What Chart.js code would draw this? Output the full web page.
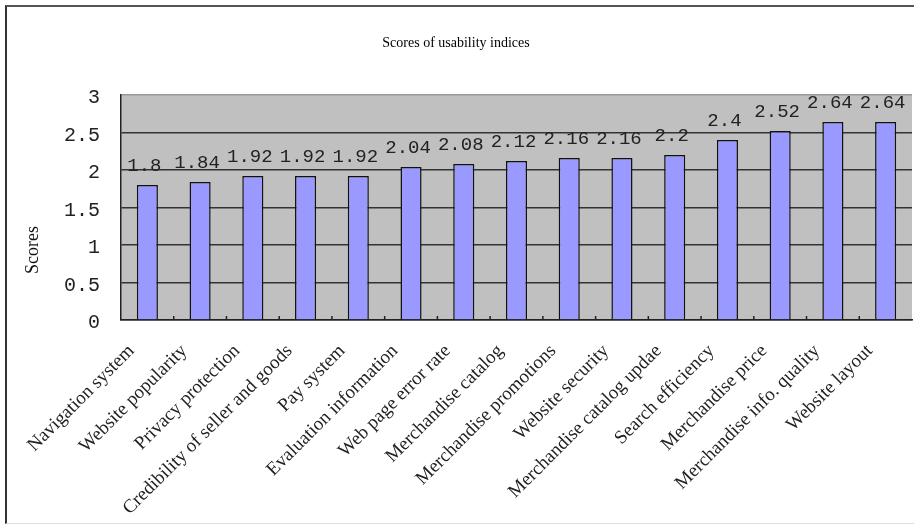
<!DOCTYPE html>
<html><head><meta charset="utf-8">
<script src="https://cdn.jsdelivr.net/npm/chart.js@4"></script>
<style>
html,body{margin:0;padding:0;background:#fff;}
#wrap{position:relative;width:914px;height:525px;overflow:hidden;}
#frame{position:absolute;left:5px;top:5px;width:930px;height:519px;border-left:2px solid #333;border-top:2px solid #555;border-bottom:1px solid #ddd;box-sizing:border-box;pointer-events:none}
canvas{position:absolute;left:0;top:0}
</style></head><body>
<div id="wrap"><canvas id="c" width="914" height="525"></canvas><div id="frame"></div></div>
<script>
const titleText = 'Scores of usability indices';
const yAxisTitle = 'Scores';
const categories = [
  'Navigation system', 'Website popularity', 'Privacy protection',
  'Credibility of seller and goods', 'Pay system', 'Evaluation information',
  'Web page error rate', 'Merchandise catalog', 'Merchandise promotions',
  'Website security', 'Merchandise catalog updae', 'Search efficiency',
  'Merchandise price', 'Merchandise info. quality', 'Website layout'
];
const scores = [1.8, 1.84, 1.92, 1.92, 1.92, 2.04, 2.08, 2.12, 2.16, 2.16, 2.2, 2.4, 2.52, 2.64, 2.64];
const yTicks = [0, 0.5, 1, 1.5, 2, 2.5, 3];

const plotBg = {
  id: 'plotBg',
  beforeDraw(chart) {
    const {ctx, chartArea: a} = chart;
    ctx.save();
    ctx.fillStyle = '#c0c0c0';
    ctx.fillRect(a.left, a.top, a.right - a.left, a.bottom - a.top);
    ctx.restore();
  }
};
const innerTicks = {
  id: 'innerTicks',
  afterDatasetsDraw(chart) {
    const {ctx, chartArea: a, scales: {x}} = chart;
    ctx.save();
    ctx.strokeStyle = '#222';
    ctx.lineWidth = 1.5;
    for (let i = 1; i < categories.length; i++) {
      const px = (x.getPixelForValue(i - 1) + x.getPixelForValue(i)) / 2;
      ctx.beginPath();
      ctx.moveTo(px, a.bottom);
      ctx.lineTo(px, a.bottom - 4);
      ctx.stroke();
    }
    ctx.restore();
  }
};
const valueLabels = {
  id: 'valueLabels',
  afterDatasetsDraw(chart) {
    const ctx = chart.ctx;
    const meta = chart.getDatasetMeta(0);
    ctx.save();
    ctx.font = '19px "Liberation Mono"';
    ctx.fillStyle = '#222';
    ctx.textAlign = 'center';
    ctx.textBaseline = 'middle';
    meta.data.forEach((bar, i) => {
      ctx.fillText(String(scores[i]), bar.x - 3, bar.y - 19);
    });
    ctx.restore();
  }
};
const yTitle = {
  id: 'yTitle',
  afterDraw(chart) {
    const ctx = chart.ctx;
    ctx.save();
    ctx.translate(33, 250);
    ctx.rotate(-Math.PI / 2);
    ctx.font = '18px "Liberation Serif"';
    ctx.fillStyle = '#111';
    ctx.textAlign = 'center';
    ctx.textBaseline = 'middle';
    ctx.fillText(yAxisTitle, 0, 0);
    ctx.restore();
  }
};

new Chart(document.getElementById('c'), {
  type: 'bar',
  data: {
    labels: categories,
    datasets: [{
      data: scores,
      backgroundColor: '#9999ff',
      borderColor: '#111',
      borderWidth: 1.5,
      borderSkipped: 'bottom',
      barPercentage: 0.4,
      categoryPercentage: 1
    }]
  },
  options: {
    responsive: false,
    devicePixelRatio: 1,
    animation: false,
    layout: { padding: { left: 0, right: 2, top: 0, bottom: 0 } },
    plugins: {
      legend: { display: false },
      tooltip: { enabled: false },
      title: {
        display: true,
        text: titleText,
        color: '#000',
        font: { family: 'Liberation Serif', size: 14, weight: 'normal' },
        padding: { top: 35, bottom: 43.2 }
      }
    },
    scales: {
      x: {
        grid: { display: false },
        border: { display: true, color: '#222', width: 1.5 },
        ticks: {
          autoSkip: false,
          maxRotation: 45,
          minRotation: 45,
          padding: 12,
          labelOffset: -16,
          color: '#222',
          font: { family: 'Liberation Serif', size: 19 }
        },
        afterFit(s) { s.height = 205; s.paddingLeft = 0; s.paddingRight = 0; }
      },
      y: {
        min: 0,
        max: 3,
        afterBuildTicks(s) { s.ticks = yTicks.map(v => ({ value: v })); },
        grid: {
          drawTicks: false,
          lineWidth: 1.5,
          color: ctx => (ctx.tick && ctx.tick.value === 3) ? '#999' : '#333'
        },
        border: { display: true, color: '#222', width: 1.5 },
        ticks: {
          padding: 21,
          labelOffset: 3,
          color: '#222',
          font: { family: 'Liberation Mono', size: 20 },
          callback: v => String(v)
        },
        afterFit(s) { s.width = 121; }
      }
    }
  },
  plugins: [plotBg, innerTicks, valueLabels, yTitle]
});
</script>
</body></html>
